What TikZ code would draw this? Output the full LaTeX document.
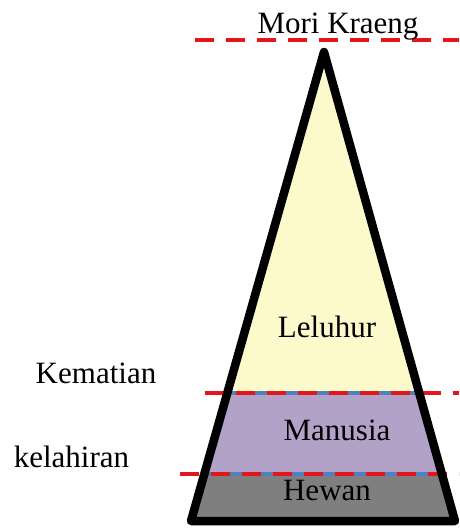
\documentclass[tikz,border=0pt]{standalone}
\usepackage{fontspec}
\setmainfont{Liberation Serif}
\definecolor{lyellow}{HTML}{FCFACB}
\definecolor{lpurple}{HTML}{B3A2C7}
\definecolor{lgray}{HTML}{7F7F7F}
\definecolor{lblue}{HTML}{4F81BD}
\definecolor{lred}{HTML}{E3161C}
\begin{document}
\begin{tikzpicture}[x=1pt,y=-1pt,
  lbl/.style={anchor=base,inner sep=0pt,font=\fontsize{31}{36}\selectfont},
  reddash/.style={draw=lred,line width=4pt,dash pattern=on 19pt off 12pt},
  blueline/.style={draw=lblue,line width=4pt},
  outline/.style={draw=black,line width=8.5pt,line join=round}]
\useasboundingbox (0,0) rectangle (459,530);
% triangle corners
\coordinate (apex) at (324,52);
\coordinate (bl) at (191,521);
\coordinate (br) at (455,521);
% fills
\begin{scope}
  \clip (apex) -- (br) -- (bl) -- cycle;
  \fill[lyellow] (150,40) rectangle (460,393);
  \fill[lpurple] (150,393) rectangle (460,474);
  \fill[lgray] (150,474) rectangle (460,530);
  \draw[blueline] (150,393) -- (460,393);
  \draw[blueline] (150,474) -- (460,474);
\end{scope}
% dashed level lines
\coordinate (t1) at (195,40);  \coordinate (t2) at (459,40);
\coordinate (k1) at (205,393); \coordinate (k2) at (459,393);
\coordinate (h1) at (180,474); \coordinate (h2) at (459,474);
\draw[reddash] (t1) -- (t2);
\draw[reddash] (k1) -- (k2);
\draw[reddash] (h1) -- (h2);
% outline
\draw[outline] (apex) -- (br) -- (bl) -- cycle;
% labels
\node[lbl] (mori) at (338,33) {Mori Kraeng};
\node[lbl] (leluhur) at (327,337) {Leluhur};
\node[lbl] (kematian) at (96,383) {Kematian};
\node[lbl] (manusia) at (337,440) {Manusia};
\node[lbl] (kelahiran) at (71.5,467) {kelahiran};
\node[lbl] (hewan) at (327,500) {Hewan};
\end{tikzpicture}
\end{document}
